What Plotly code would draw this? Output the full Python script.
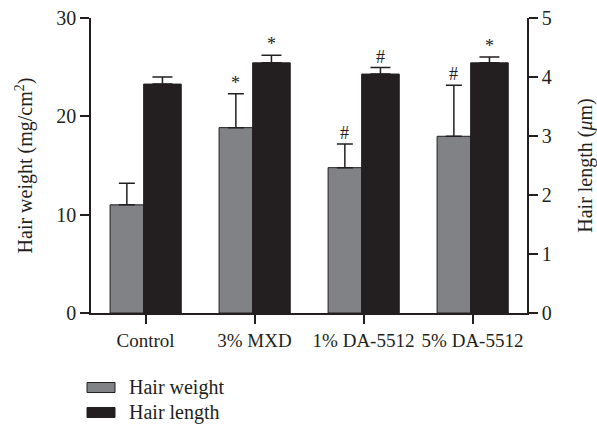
import plotly.graph_objects as go

categories = ["Control", "3% MXD", "1% DA-5512", "5% DA-5512"]
hair_weight = [11.0, 18.85, 14.78, 17.97]
hair_weight_err = [2.2, 3.45, 2.4, 5.2]
hair_length = [3.88, 4.24, 4.05, 4.24]
hair_length_err = [0.12, 0.13, 0.11, 0.10]
weight_marks = ["", "*", "#", "#"]
length_marks = ["", "*", "#", "*"]
legend_labels = ["Hair weight", "Hair length"]

GRAY = "#808285"
BLACK = "#231f20"
FONT = "Liberation Serif, Times New Roman, serif"
FS = 20

W, H = 597, 425
ML, MR, MT, MB = 91, 70, 18, 112

xs = list(range(len(categories)))
g_off, g_w = -0.325, 0.308
b_off, b_w = -0.017, 0.345

fig = go.Figure()
fig.add_trace(go.Bar(
    x=xs, y=hair_weight, name="Hair weight", yaxis="y",
    offset=g_off, width=g_w,
    marker=dict(color=GRAY, line=dict(color=BLACK, width=1)),
    error_y=dict(type="data", array=hair_weight_err, arrayminus=[0] * 4, symmetric=False,
                 color=BLACK, thickness=1.5, width=8),
    showlegend=False,
))
fig.add_trace(go.Bar(
    x=xs, y=hair_length, name="Hair length", yaxis="y2",
    offset=b_off, width=b_w,
    marker=dict(color=BLACK, line=dict(color=BLACK, width=1)),
    error_y=dict(type="data", array=hair_length_err, arrayminus=[0] * 4, symmetric=False,
                 color=BLACK, thickness=1.5, width=10),
    showlegend=False,
))

annotations = []
for i, m in enumerate(weight_marks):
    if m:
        annotations.append(dict(x=i + g_off + g_w / 2, y=hair_weight[i] + hair_weight_err[i],
                                xref="x", yref="y", text=m, showarrow=False,
                                yanchor="bottom", yshift=-1,
                                font=dict(family=FONT, size=18, color=BLACK)))
for i, m in enumerate(length_marks):
    if m:
        annotations.append(dict(x=i + b_off + b_w / 2, y=hair_length[i] + hair_length_err[i],
                                xref="x", yref="y2", text=m, showarrow=False,
                                yanchor="bottom", yshift=-1,
                                font=dict(family=FONT, size=18, color=BLACK)))

plot_w = W - ML - MR
plot_h = H - MT - MB


def px_to_paper_x(px):
    return (px - ML) / plot_w


def px_to_paper_y(py):
    return (H - MB - py) / plot_h


shapes = []
legend_colors = [GRAY, BLACK]
legend_rows_px = [387.5, 412.5]
for label, col, ypx in zip(legend_labels, legend_colors, legend_rows_px):
    shapes.append(dict(type="rect", xref="paper", yref="paper",
                       x0=px_to_paper_x(87), x1=px_to_paper_x(115),
                       y0=px_to_paper_y(ypx + 5), y1=px_to_paper_y(ypx - 5),
                       fillcolor=col, line=dict(color=BLACK, width=1)))
    annotations.append(dict(xref="paper", yref="paper", x=px_to_paper_x(127),
                            y=px_to_paper_y(ypx), xanchor="left", yanchor="middle",
                            text=label, showarrow=False,
                            font=dict(family=FONT, size=FS, color=BLACK)))

axis_common = dict(showline=True, linecolor=BLACK, linewidth=1.5,
                   ticks="outside", tickwidth=1.5, tickcolor=BLACK,
                   showgrid=False, zeroline=False,
                   tickfont=dict(family=FONT, size=FS, color=BLACK))

fig.update_layout(
    width=W, height=H,
    margin=dict(l=ML, r=MR, t=MT, b=MB, autoexpand=False),
    paper_bgcolor="white", plot_bgcolor="white",
    font=dict(family=FONT, size=FS, color=BLACK),
    barmode="overlay",
    xaxis=dict(range=[-0.5, 3.5], tickvals=xs, ticktext=categories, ticklen=9,
               tickangle=0,
               showline=True, linecolor=BLACK, linewidth=1.5,
               ticks="outside", tickwidth=1.5, tickcolor=BLACK,
               showgrid=False, zeroline=False,
               tickfont=dict(family=FONT, size=19, color=BLACK)),
    yaxis=dict(range=[0, 30], tickvals=[0, 10, 20, 30], ticklen=9,
               title=dict(text="Hair weight (mg/cm<sup>2</sup>)", standoff=18,
                          font=dict(family=FONT, size=FS, color=BLACK)),
               **axis_common),
    yaxis2=dict(range=[0, 5], tickvals=[0, 1, 2, 3, 4, 5], overlaying="y", side="right",
                ticklen=9,
                title=dict(text="Hair length (<i>μ</i>m)", standoff=30,
                           font=dict(family=FONT, size=FS, color=BLACK)),
                **axis_common),
    annotations=annotations,
    shapes=shapes,
)

fig.write_html("out.html")
